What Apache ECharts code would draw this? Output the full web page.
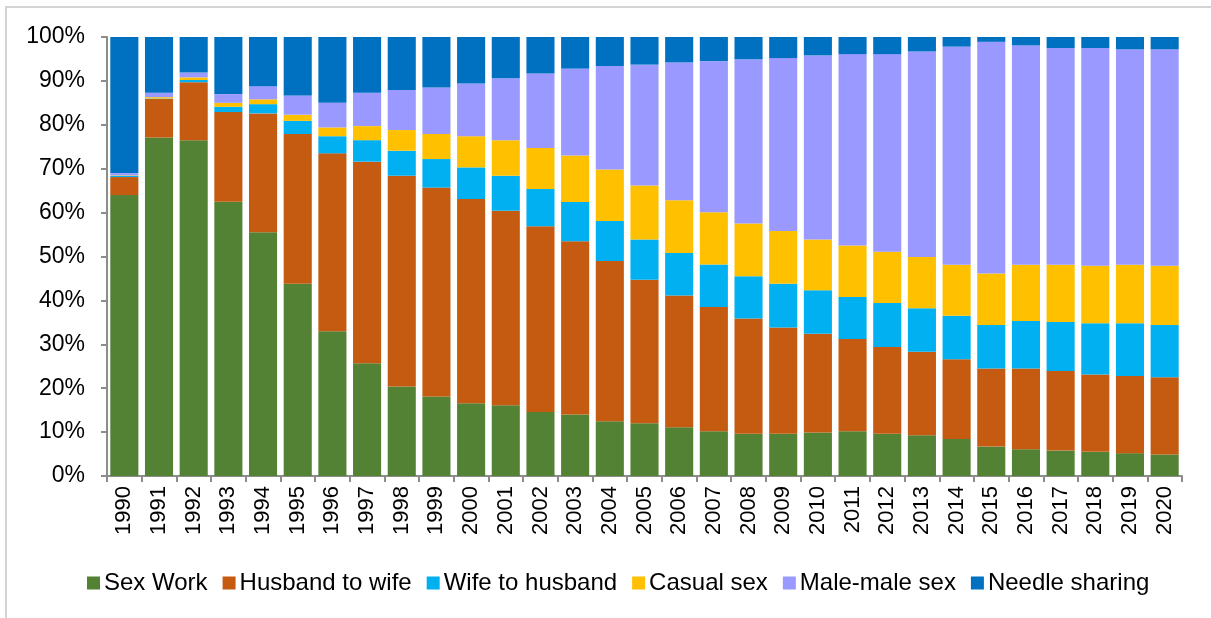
<!DOCTYPE html>
<html>
<head>
<meta charset="utf-8">
<script src="https://cdn.jsdelivr.net/npm/echarts@6/dist/echarts.min.js"></script>
<style>html,body{margin:0;padding:0;background:#fff;}#chart{width:1211px;height:618px;}</style>
</head>
<body>
<div id="chart"></div>
<script>
const years = ['1990','1991','1992','1993','1994','1995','1996','1997','1998','1999','2000','2001','2002','2003','2004','2005','2006','2007','2008','2009','2010','2011','2012','2013','2014','2015','2016','2017','2018','2019','2020'];
const sexWork      = [64.0,77.1,76.5,62.5,55.5,43.8,33.0,25.7,20.4,18.1,16.6,16.1,14.6,14.0,12.5,12.0,11.1,10.2,9.6,9.6,9.9,10.2,9.6,9.3,8.4,6.7,6.1,5.8,5.5,5.2,4.9];
const husbandWife  = [4.1,8.8,13.2,20.4,27.1,34.1,40.5,45.9,48.0,47.6,46.5,44.3,42.3,39.5,36.5,32.7,30.0,28.3,26.3,24.2,22.5,21.0,19.8,19.0,18.2,17.8,18.4,18.1,17.6,17.6,17.6];
const wifeHusband  = [0.3,0.1,0.5,1.2,2.1,3.0,3.9,4.9,5.7,6.5,7.2,8.0,8.5,8.9,9.1,9.2,9.7,9.7,9.6,10.0,9.9,9.6,10.0,9.9,9.9,9.9,10.8,11.2,11.7,12.0,11.9];
const casualSex    = [0.1,0.3,0.6,0.9,1.1,1.4,2.0,3.2,4.7,5.7,7.1,8.1,9.3,10.6,11.7,12.3,12.0,11.9,12.0,12.0,11.6,11.7,11.7,11.7,11.6,11.7,12.8,13.0,13.1,13.3,13.5];
const maleMale     = [0.5,1.0,1.1,2.0,3.0,4.4,5.6,7.6,9.1,10.6,12.0,14.1,17.0,19.8,23.6,27.5,31.4,34.4,37.4,39.4,41.9,43.6,45.0,46.8,49.7,52.8,50.0,49.4,49.6,49.1,49.3];
const needle       = [31.0,12.7,8.1,13.0,11.2,13.3,15.0,12.7,12.1,11.5,10.6,9.4,8.3,7.2,6.6,6.3,5.8,5.5,5.1,4.8,4.2,3.9,3.9,3.3,2.2,1.1,1.9,2.5,2.5,2.8,2.8];
const seriesNames  = ['Sex Work','Husband to wife','Wife to husband','Casual sex','Male-male sex','Needle sharing'];
const seriesColors = ['#548235','#C55A11','#00B0F0','#FFC000','#9999FF','#0070C0'];
const seriesData   = [sexWork, husbandWife, wifeHusband, casualSex, maleMale, needle];

const chart = echarts.init(document.getElementById('chart'), null, {renderer:'canvas'});
const FONT = 'Liberation Sans, Arial, sans-serif';
chart.setOption({
  animation: false,
  backgroundColor: '#ffffff',
  graphic: [{
    type: 'rect', silent: true, z: -1,
    shape: {x: 6, y: 7, width: 1400, height: 800},
    style: {fill: 'none', stroke: '#d4d4d4', lineWidth: 2}
  }],
  grid: {left: 107, right: 29, top: 37, bottom: 142, containLabel: false},
  legend: {
    data: seriesNames,
    left: 82, top: 566,
    icon: 'rect', itemWidth: 13, itemHeight: 13, itemGap: 15,
    textStyle: {fontFamily: FONT, fontSize: 24, color: '#000', padding: [0,0,0,-1]}
  },
  xAxis: {
    type: 'category', data: years,
    axisLine: {show: true, lineStyle: {color: '#8c8c8c', width: 2}},
    axisTick: {show: true, alignWithLabel: false, length: 6, lineStyle: {color: '#8c8c8c', width: 2}},
    axisLabel: {rotate: 90, fontFamily: FONT, fontSize: 22, color: '#000', margin: 10, interval: 0}
  },
  yAxis: {
    type: 'value', min: 0, max: 100, interval: 10,
    axisLine: {show: true, lineStyle: {color: '#8c8c8c', width: 2}},
    axisTick: {show: true, length: 6, lineStyle: {color: '#8c8c8c', width: 2}},
    splitLine: {show: false},
    axisLabel: {formatter: '{value}%', fontFamily: FONT, fontSize: 23, color: '#000', margin: 22}
  },
  series: seriesNames.map((n, i) => ({
    name: n, type: 'bar', stack: 'total',
    data: seriesData[i],
    barCategoryGap: '19%',
    itemStyle: {color: seriesColors[i]}
  }))
});
</script>
</body>
</html>
